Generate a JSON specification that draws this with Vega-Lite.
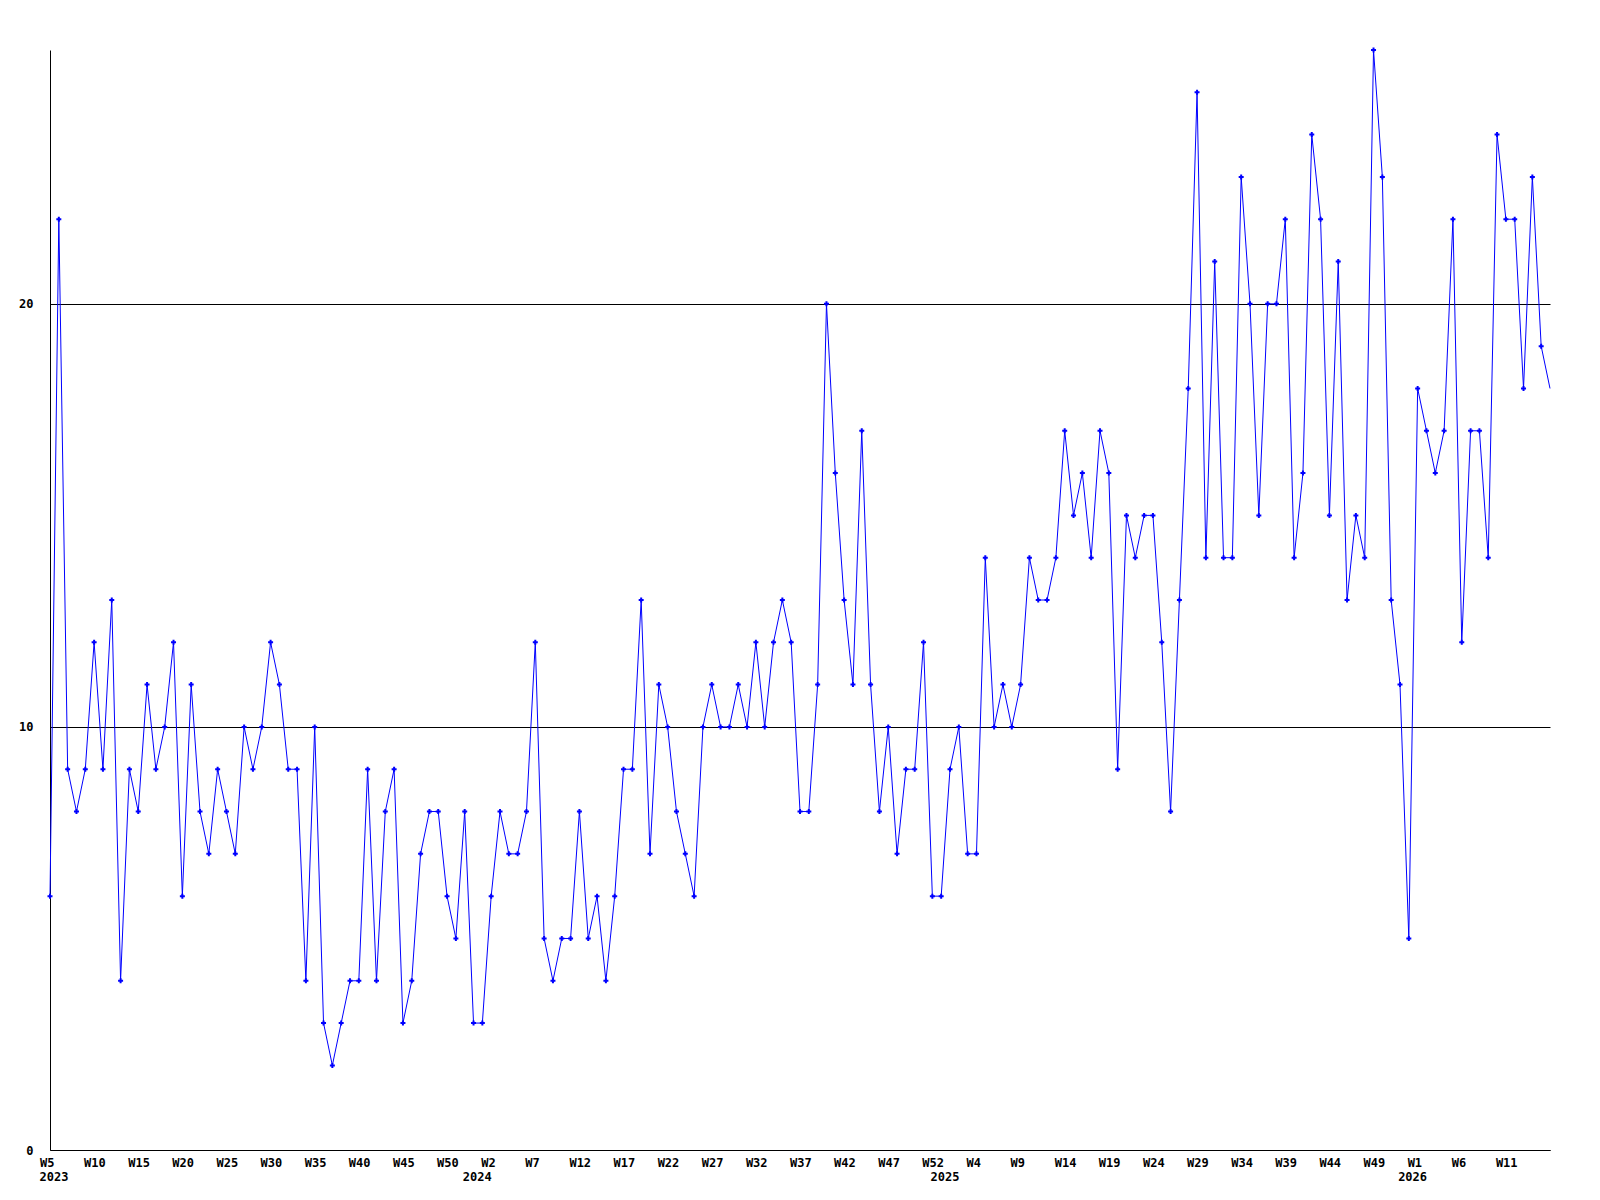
{
  "$schema": "https://vega.github.io/schema/vega-lite/v6.json",
  "width": 1500,
  "height": 1100,
  "autosize": {"type": "none"},
  "padding": {"left": 50, "top": 50, "right": 50, "bottom": 50},
  "background": "white",
  "config": {
    "view": {"stroke": null},
    "axis": {
      "labelFont": "DejaVu Sans Mono",
      "labelFontWeight": "bold",
      "labelFontSize": 12,
      "labelColor": "black",
      "domainColor": "black",
      "domainWidth": 1,
      "gridColor": "black",
      "gridWidth": 1,
      "gridOpacity": 1,
      "labelFlush": false,
      "labelOverlap": false,
      "labelBound": false
    }
  },
  "data": {
    "values": [
      {"idx": 0, "week": "2023-W05", "value": 6},
      {"idx": 1, "week": "2023-W06", "value": 22},
      {"idx": 2, "week": "2023-W07", "value": 9},
      {"idx": 3, "week": "2023-W08", "value": 8},
      {"idx": 4, "week": "2023-W09", "value": 9},
      {"idx": 5, "week": "2023-W10", "value": 12},
      {"idx": 6, "week": "2023-W11", "value": 9},
      {"idx": 7, "week": "2023-W12", "value": 13},
      {"idx": 8, "week": "2023-W13", "value": 4},
      {"idx": 9, "week": "2023-W14", "value": 9},
      {"idx": 10, "week": "2023-W15", "value": 8},
      {"idx": 11, "week": "2023-W16", "value": 11},
      {"idx": 12, "week": "2023-W17", "value": 9},
      {"idx": 13, "week": "2023-W18", "value": 10},
      {"idx": 14, "week": "2023-W19", "value": 12},
      {"idx": 15, "week": "2023-W20", "value": 6},
      {"idx": 16, "week": "2023-W21", "value": 11},
      {"idx": 17, "week": "2023-W22", "value": 8},
      {"idx": 18, "week": "2023-W23", "value": 7},
      {"idx": 19, "week": "2023-W24", "value": 9},
      {"idx": 20, "week": "2023-W25", "value": 8},
      {"idx": 21, "week": "2023-W26", "value": 7},
      {"idx": 22, "week": "2023-W27", "value": 10},
      {"idx": 23, "week": "2023-W28", "value": 9},
      {"idx": 24, "week": "2023-W29", "value": 10},
      {"idx": 25, "week": "2023-W30", "value": 12},
      {"idx": 26, "week": "2023-W31", "value": 11},
      {"idx": 27, "week": "2023-W32", "value": 9},
      {"idx": 28, "week": "2023-W33", "value": 9},
      {"idx": 29, "week": "2023-W34", "value": 4},
      {"idx": 30, "week": "2023-W35", "value": 10},
      {"idx": 31, "week": "2023-W36", "value": 3},
      {"idx": 32, "week": "2023-W37", "value": 2},
      {"idx": 33, "week": "2023-W38", "value": 3},
      {"idx": 34, "week": "2023-W39", "value": 4},
      {"idx": 35, "week": "2023-W40", "value": 4},
      {"idx": 36, "week": "2023-W41", "value": 9},
      {"idx": 37, "week": "2023-W42", "value": 4},
      {"idx": 38, "week": "2023-W43", "value": 8},
      {"idx": 39, "week": "2023-W44", "value": 9},
      {"idx": 40, "week": "2023-W45", "value": 3},
      {"idx": 41, "week": "2023-W46", "value": 4},
      {"idx": 42, "week": "2023-W47", "value": 7},
      {"idx": 43, "week": "2023-W48", "value": 8},
      {"idx": 44, "week": "2023-W49", "value": 8},
      {"idx": 45, "week": "2023-W50", "value": 6},
      {"idx": 46, "week": "2023-W51", "value": 5},
      {"idx": 47, "week": "2023-W52", "value": 8},
      {"idx": 48, "week": "2023-W53", "value": 3},
      {"idx": 49, "week": "2024-W01", "value": 3},
      {"idx": 50, "week": "2024-W02", "value": 6},
      {"idx": 51, "week": "2024-W03", "value": 8},
      {"idx": 52, "week": "2024-W04", "value": 7},
      {"idx": 53, "week": "2024-W05", "value": 7},
      {"idx": 54, "week": "2024-W06", "value": 8},
      {"idx": 55, "week": "2024-W07", "value": 12},
      {"idx": 56, "week": "2024-W08", "value": 5},
      {"idx": 57, "week": "2024-W09", "value": 4},
      {"idx": 58, "week": "2024-W10", "value": 5},
      {"idx": 59, "week": "2024-W11", "value": 5},
      {"idx": 60, "week": "2024-W12", "value": 8},
      {"idx": 61, "week": "2024-W13", "value": 5},
      {"idx": 62, "week": "2024-W14", "value": 6},
      {"idx": 63, "week": "2024-W15", "value": 4},
      {"idx": 64, "week": "2024-W16", "value": 6},
      {"idx": 65, "week": "2024-W17", "value": 9},
      {"idx": 66, "week": "2024-W18", "value": 9},
      {"idx": 67, "week": "2024-W19", "value": 13},
      {"idx": 68, "week": "2024-W20", "value": 7},
      {"idx": 69, "week": "2024-W21", "value": 11},
      {"idx": 70, "week": "2024-W22", "value": 10},
      {"idx": 71, "week": "2024-W23", "value": 8},
      {"idx": 72, "week": "2024-W24", "value": 7},
      {"idx": 73, "week": "2024-W25", "value": 6},
      {"idx": 74, "week": "2024-W26", "value": 10},
      {"idx": 75, "week": "2024-W27", "value": 11},
      {"idx": 76, "week": "2024-W28", "value": 10},
      {"idx": 77, "week": "2024-W29", "value": 10},
      {"idx": 78, "week": "2024-W30", "value": 11},
      {"idx": 79, "week": "2024-W31", "value": 10},
      {"idx": 80, "week": "2024-W32", "value": 12},
      {"idx": 81, "week": "2024-W33", "value": 10},
      {"idx": 82, "week": "2024-W34", "value": 12},
      {"idx": 83, "week": "2024-W35", "value": 13},
      {"idx": 84, "week": "2024-W36", "value": 12},
      {"idx": 85, "week": "2024-W37", "value": 8},
      {"idx": 86, "week": "2024-W38", "value": 8},
      {"idx": 87, "week": "2024-W39", "value": 11},
      {"idx": 88, "week": "2024-W40", "value": 20},
      {"idx": 89, "week": "2024-W41", "value": 16},
      {"idx": 90, "week": "2024-W42", "value": 13},
      {"idx": 91, "week": "2024-W43", "value": 11},
      {"idx": 92, "week": "2024-W44", "value": 17},
      {"idx": 93, "week": "2024-W45", "value": 11},
      {"idx": 94, "week": "2024-W46", "value": 8},
      {"idx": 95, "week": "2024-W47", "value": 10},
      {"idx": 96, "week": "2024-W48", "value": 7},
      {"idx": 97, "week": "2024-W49", "value": 9},
      {"idx": 98, "week": "2024-W50", "value": 9},
      {"idx": 99, "week": "2024-W51", "value": 12},
      {"idx": 100, "week": "2024-W52", "value": 6},
      {"idx": 101, "week": "2024-W53", "value": 6},
      {"idx": 102, "week": "2025-W01", "value": 9},
      {"idx": 103, "week": "2025-W02", "value": 10},
      {"idx": 104, "week": "2025-W03", "value": 7},
      {"idx": 105, "week": "2025-W04", "value": 7},
      {"idx": 106, "week": "2025-W05", "value": 14},
      {"idx": 107, "week": "2025-W06", "value": 10},
      {"idx": 108, "week": "2025-W07", "value": 11},
      {"idx": 109, "week": "2025-W08", "value": 10},
      {"idx": 110, "week": "2025-W09", "value": 11},
      {"idx": 111, "week": "2025-W10", "value": 14},
      {"idx": 112, "week": "2025-W11", "value": 13},
      {"idx": 113, "week": "2025-W12", "value": 13},
      {"idx": 114, "week": "2025-W13", "value": 14},
      {"idx": 115, "week": "2025-W14", "value": 17},
      {"idx": 116, "week": "2025-W15", "value": 15},
      {"idx": 117, "week": "2025-W16", "value": 16},
      {"idx": 118, "week": "2025-W17", "value": 14},
      {"idx": 119, "week": "2025-W18", "value": 17},
      {"idx": 120, "week": "2025-W19", "value": 16},
      {"idx": 121, "week": "2025-W20", "value": 9},
      {"idx": 122, "week": "2025-W21", "value": 15},
      {"idx": 123, "week": "2025-W22", "value": 14},
      {"idx": 124, "week": "2025-W23", "value": 15},
      {"idx": 125, "week": "2025-W24", "value": 15},
      {"idx": 126, "week": "2025-W25", "value": 12},
      {"idx": 127, "week": "2025-W26", "value": 8},
      {"idx": 128, "week": "2025-W27", "value": 13},
      {"idx": 129, "week": "2025-W28", "value": 18},
      {"idx": 130, "week": "2025-W29", "value": 25},
      {"idx": 131, "week": "2025-W30", "value": 14},
      {"idx": 132, "week": "2025-W31", "value": 21},
      {"idx": 133, "week": "2025-W32", "value": 14},
      {"idx": 134, "week": "2025-W33", "value": 14},
      {"idx": 135, "week": "2025-W34", "value": 23},
      {"idx": 136, "week": "2025-W35", "value": 20},
      {"idx": 137, "week": "2025-W36", "value": 15},
      {"idx": 138, "week": "2025-W37", "value": 20},
      {"idx": 139, "week": "2025-W38", "value": 20},
      {"idx": 140, "week": "2025-W39", "value": 22},
      {"idx": 141, "week": "2025-W40", "value": 14},
      {"idx": 142, "week": "2025-W41", "value": 16},
      {"idx": 143, "week": "2025-W42", "value": 24},
      {"idx": 144, "week": "2025-W43", "value": 22},
      {"idx": 145, "week": "2025-W44", "value": 15},
      {"idx": 146, "week": "2025-W45", "value": 21},
      {"idx": 147, "week": "2025-W46", "value": 13},
      {"idx": 148, "week": "2025-W47", "value": 15},
      {"idx": 149, "week": "2025-W48", "value": 14},
      {"idx": 150, "week": "2025-W49", "value": 26},
      {"idx": 151, "week": "2025-W50", "value": 23},
      {"idx": 152, "week": "2025-W51", "value": 13},
      {"idx": 153, "week": "2025-W52", "value": 11},
      {"idx": 154, "week": "2025-W53", "value": 5},
      {"idx": 155, "week": "2026-W01", "value": 18},
      {"idx": 156, "week": "2026-W02", "value": 17},
      {"idx": 157, "week": "2026-W03", "value": 16},
      {"idx": 158, "week": "2026-W04", "value": 17},
      {"idx": 159, "week": "2026-W05", "value": 22},
      {"idx": 160, "week": "2026-W06", "value": 12},
      {"idx": 161, "week": "2026-W07", "value": 17},
      {"idx": 162, "week": "2026-W08", "value": 17},
      {"idx": 163, "week": "2026-W09", "value": 14},
      {"idx": 164, "week": "2026-W10", "value": 24},
      {"idx": 165, "week": "2026-W11", "value": 22},
      {"idx": 166, "week": "2026-W12", "value": 22},
      {"idx": 167, "week": "2026-W13", "value": 18},
      {"idx": 168, "week": "2026-W14", "value": 23},
      {"idx": 169, "week": "2026-W15", "value": 19},
      {"idx": 170, "week": "2026-W16", "value": 18}
    ]
  },
  "resolve": {"axis": {"x": "independent"}},
  "layer": [
    {
      "mark": {"type": "line", "color": "#0000ff", "strokeWidth": 1},
      "encoding": {
        "x": {
          "field": "idx",
          "type": "quantitative",
          "scale": {"domain": [0, 170], "nice": false, "zero": false},
          "axis": {
            "orient": "bottom",
            "title": null,
            "values": [0, 5, 10, 15, 20, 25, 30, 35, 40, 45, 50, 55, 60, 65, 70, 75, 80, 85, 90, 95, 100, 105, 110, 115, 120, 125, 130, 135, 140, 145, 150, 155, 160, 165],
            "labelExpr": "datum.value < 49 ? 'W' + (datum.value + 5) : datum.value < 102 ? 'W' + (datum.value - 48) : datum.value < 155 ? 'W' + (datum.value - 101) : 'W' + (datum.value - 154)",
            "labelAlign": "left",
            "labelOffset": -10.5,
            "labelBaseline": "top",
            "labelPadding": 7,
            "ticks": false,
            "tickSize": 0,
            "grid": false,
            "domain": true
          }
        },
        "y": {
          "field": "value",
          "type": "quantitative",
          "scale": {"domain": [0, 26], "nice": false, "zero": true},
          "axis": {
            "title": null,
            "values": [0, 10, 20],
            "grid": true,
            "ticks": false,
            "tickSize": 0,
            "labelPadding": 17,
            "domain": true
          }
        }
      }
    },
    {
      "transform": [{"filter": "datum.idx < 170"}],
      "mark": {"type": "point", "shape": "cross", "filled": true, "size": 25, "color": "#0000ff", "opacity": 1},
      "encoding": {
        "x": {
          "field": "idx",
          "type": "quantitative",
          "scale": {"domain": [0, 170], "nice": false, "zero": false},
          "axis": {
            "orient": "bottom",
            "title": null,
            "values": [0, 49, 102, 155],
            "labelExpr": "datum.value < 49 ? '2023' : datum.value < 102 ? '2024' : datum.value < 155 ? '2025' : '2026'",
            "labelAlign": "left",
            "labelOffset": {"condition": {"test": "datum.value == 0", "value": -11}, "value": -20},
            "labelBaseline": "top",
            "labelPadding": 21,
            "ticks": false,
            "tickSize": 0,
            "grid": false,
            "domain": false
          }
        },
        "y": {
          "field": "value",
          "type": "quantitative",
          "scale": {"domain": [0, 26], "nice": false, "zero": true},
          "axis": {
            "title": null,
            "values": [0, 10, 20],
            "grid": true,
            "ticks": false,
            "tickSize": 0,
            "labelPadding": 17,
            "domain": true
          }
        }
      }
    }
  ]
}
